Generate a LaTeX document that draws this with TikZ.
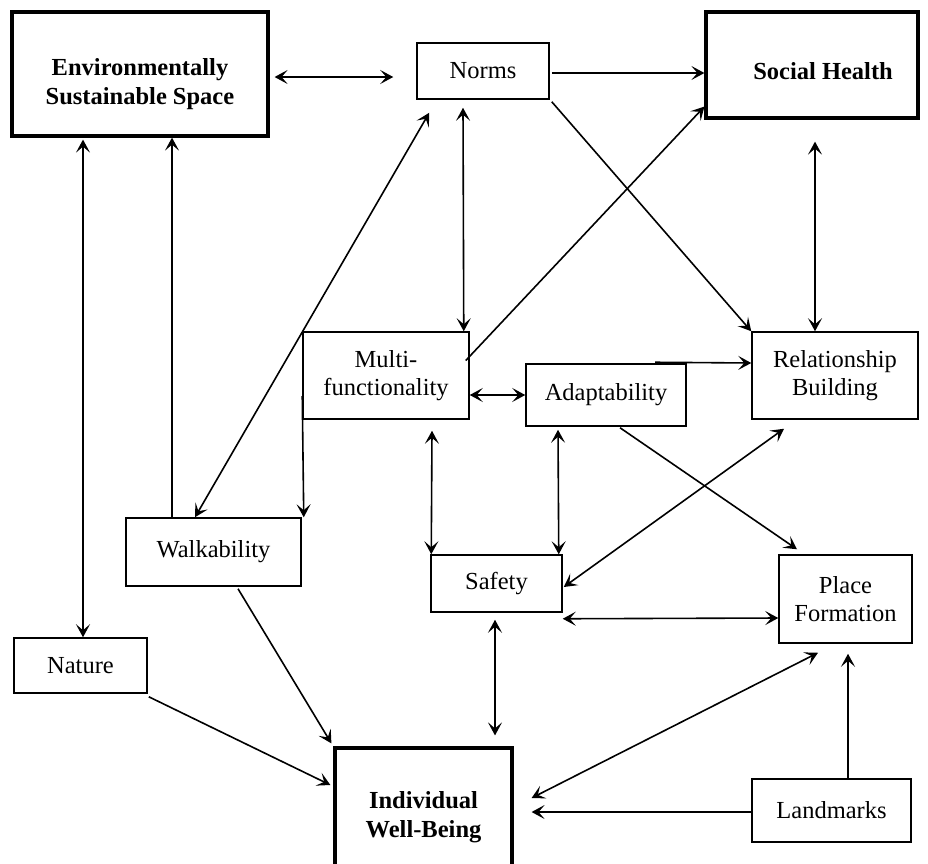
\documentclass[tikz,border=0pt]{standalone}
\usepackage{fontspec}
\setmainfont{Liberation Serif}
\usetikzlibrary{arrows.meta,calc}
\begin{document}
\begin{tikzpicture}[x=1pt,y=-1pt,
  >={Stealth[length=13pt,width=14pt,inset=6pt]},
  box/.style={draw,line width=1.5pt,rectangle,inner sep=0pt,
              font=\fontsize{24.5}{28.5}\selectfont,align=center},
  bigbox/.style={box,line width=3.2pt},
  lbl/.style={inner sep=0pt,font=\fontsize{24.5}{28.5}\selectfont\bfseries,align=center},
  conn/.style={line width=1.6pt,->},
  both/.style={line width=1.6pt,<->}]
\useasboundingbox (0,0) rectangle (928,863);
\clip (0,0) rectangle (928,863);
\fill[white] (0,0) rectangle (928,863);

% boxes
\node[bigbox,minimum width=256pt,minimum height=124pt] (env) at (140,74) {};
\node[lbl] (envt) at (140,84) {Environmentally\\Sustainable Space};
\node[box,minimum width=132pt,minimum height=56pt] (norms) at (483,71) {Norms};
\node[bigbox,minimum width=212pt,minimum height=106pt] (sh) at (812,65) {};
\node[lbl] (sht) at (823,71) {Social Health};
\node[box,minimum width=166pt,minimum height=87pt] (multi) at (386,375.5) {Multi-\\functionality};
\node[box,minimum width=160pt,minimum height=62pt] (adapt) at (606,395) {Adaptability};
\node[box,minimum width=166pt,minimum height=87pt] (rb) at (835,375.5) {Relationship\\Building};
\node[box,minimum width=175pt,minimum height=68pt] (walk) at (213.5,552) {Walkability};
\node[box,minimum width=131pt,minimum height=57pt] (safety) at (496.5,583.5) {Safety};
\node[box,minimum width=133pt,minimum height=88pt] (pf) at (845.5,599) {Place\\Formation};
\node[box,minimum width=133pt,minimum height=55pt] (nature) at (80.5,665.5) {Nature};
\node[bigbox,minimum width=177pt,minimum height=132pt] (iwb) at (423.5,814) {};
\node[lbl] (iwbt) at (423.5,817) {Individual\\Well-Being};
\node[box,minimum width=159pt,minimum height=63pt] (land) at (831.5,810.5) {Landmarks};

% connectors
\draw[both] ($(env.east)+(5,3)$) -- ($(norms.west)+(-23,6)$);
\draw[conn] ($(norms.east)+(2,2)$) -- ($(sh.west)+(0,8)$);
\draw[conn] ($(norms.south east)+(2,2)$) -- (rb.north west);
\draw[conn] ($(multi.east)+(-4,-15)$) -- ($(sh.south west)+(0,-13)$);
\draw[both] ($(norms.south)+(-20,8)$) -- ($(multi.north east)+(-6,0)$);
\draw[both] ($(norms.south west)+(13,13)$) -- ($(walk.north)+(-18.5,0)$);
\draw[both] ($(sh.south)+(3,22)$) -- ($(rb.north)+(-20,0)$);
\draw[both] ($(multi.east)+(0,19.5)$) -- (adapt.west);
\draw[conn] ($(adapt.north)+(49,-1)$) -- ($(rb.west)+(0,-12.5)$);
\draw[conn] ($(multi.west)+(0,20.5)$) -- ($(walk.north east)+(2,0)$);
\draw[conn] ($(walk.north)+(-41.5,0)$) -- ($(env.south)+(32,0)$);
\draw[both] ($(nature.north)+(2.5,0)$) -- ($(env.south)+(-57,2)$);
\draw[both] ($(multi.south)+(46,11)$) -- ($(safety.north west)+(1,0)$);
\draw[both] ($(adapt.south)+(-48,3)$) -- ($(safety.north east)+(-4,0)$);
\draw[conn] ($(adapt.south)+(14,1)$) -- ($(pf.north)+(-48.5,-5)$);
\draw[both] ($(safety.east)+(1,3.5)$) -- ($(rb.south)+(-51,9)$);
\draw[both] ($(safety.south east)+(0,6)$) -- ($(pf.west)+(0,19)$);
\draw[both] ($(safety.south)+(-1.5,7)$) -- ($(iwb.north)+(71.5,-11)$);
\draw[conn] ($(walk.south)+(24.5,2)$) -- ($(iwb.north west)+(-2,-3)$);
\draw[conn] ($(nature.south east)+(1,3)$) -- ($(iwb.west)+(-3,-29)$);
\draw[both] ($(iwb.east)+(18,-16)$) -- ($(pf.south)+(-27.5,9)$);
\draw[conn] ($(land.west)+(0,1.5)$) -- ($(iwb.east)+(18,-2)$);
\draw[conn] ($(land.north)+(16.5,0)$) -- ($(pf.south)+(2.5,10)$);
\end{tikzpicture}
\end{document}
